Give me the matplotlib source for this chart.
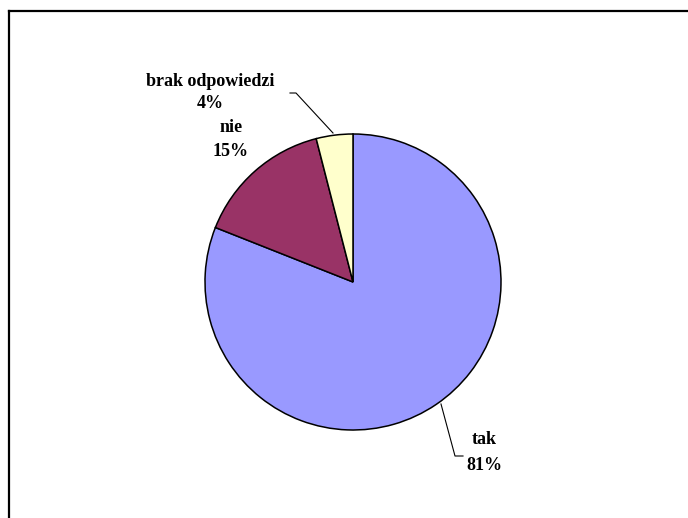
import matplotlib
matplotlib.use("Agg")
import matplotlib.pyplot as plt

categories = ["tak", "nie", "brak odpowiedzi"]
values = [81, 15, 4]
colors = ["#9999FF", "#993366", "#FFFFCC"]

W, H = 688, 518
fig = plt.figure(figsize=(W / 100, H / 100), dpi=100)
ax = fig.add_axes([0, 0, 1, 1])

def Y(y):
    return H - y

# outer frame (top and left edges visible)
ax.plot([9, W + 5], [Y(11), Y(11)], color="black", lw=1.6, solid_capstyle="projecting")
ax.plot([9, 9], [Y(11), Y(H + 5)], color="black", lw=1.6, solid_capstyle="projecting")

ax.pie(values, colors=colors, startangle=90, counterclock=False,
       center=(353, Y(282)), radius=148,
       wedgeprops=dict(edgecolor="black", linewidth=1.1))
ax.set_xlim(0, W)
ax.set_ylim(0, H)
ax.set_aspect("equal")
ax.axis("off")

font = dict(family=["Liberation Serif", "DejaVu Serif"], weight="bold", size=13,
            ha="center", va="center", color="black")

# leader lines
ax.plot([290, 296, 333], [Y(93), Y(93), Y(133)], color="black", lw=0.8)
ax.plot([441, 455, 463], [Y(404), Y(456), Y(456)], color="black", lw=0.8)

pcts = [f"{v}%" for v in values]
ax.text(210, Y(81), categories[2], **font)
ax.text(210, Y(103), pcts[2], **font)
ax.text(231, Y(128), categories[1], **font)
ax.text(231, Y(152), pcts[1], **font)
ax.text(484, Y(440), categories[0], **font)
ax.text(484, Y(465), pcts[0], **font)

fig.savefig("out.png", dpi=100)
